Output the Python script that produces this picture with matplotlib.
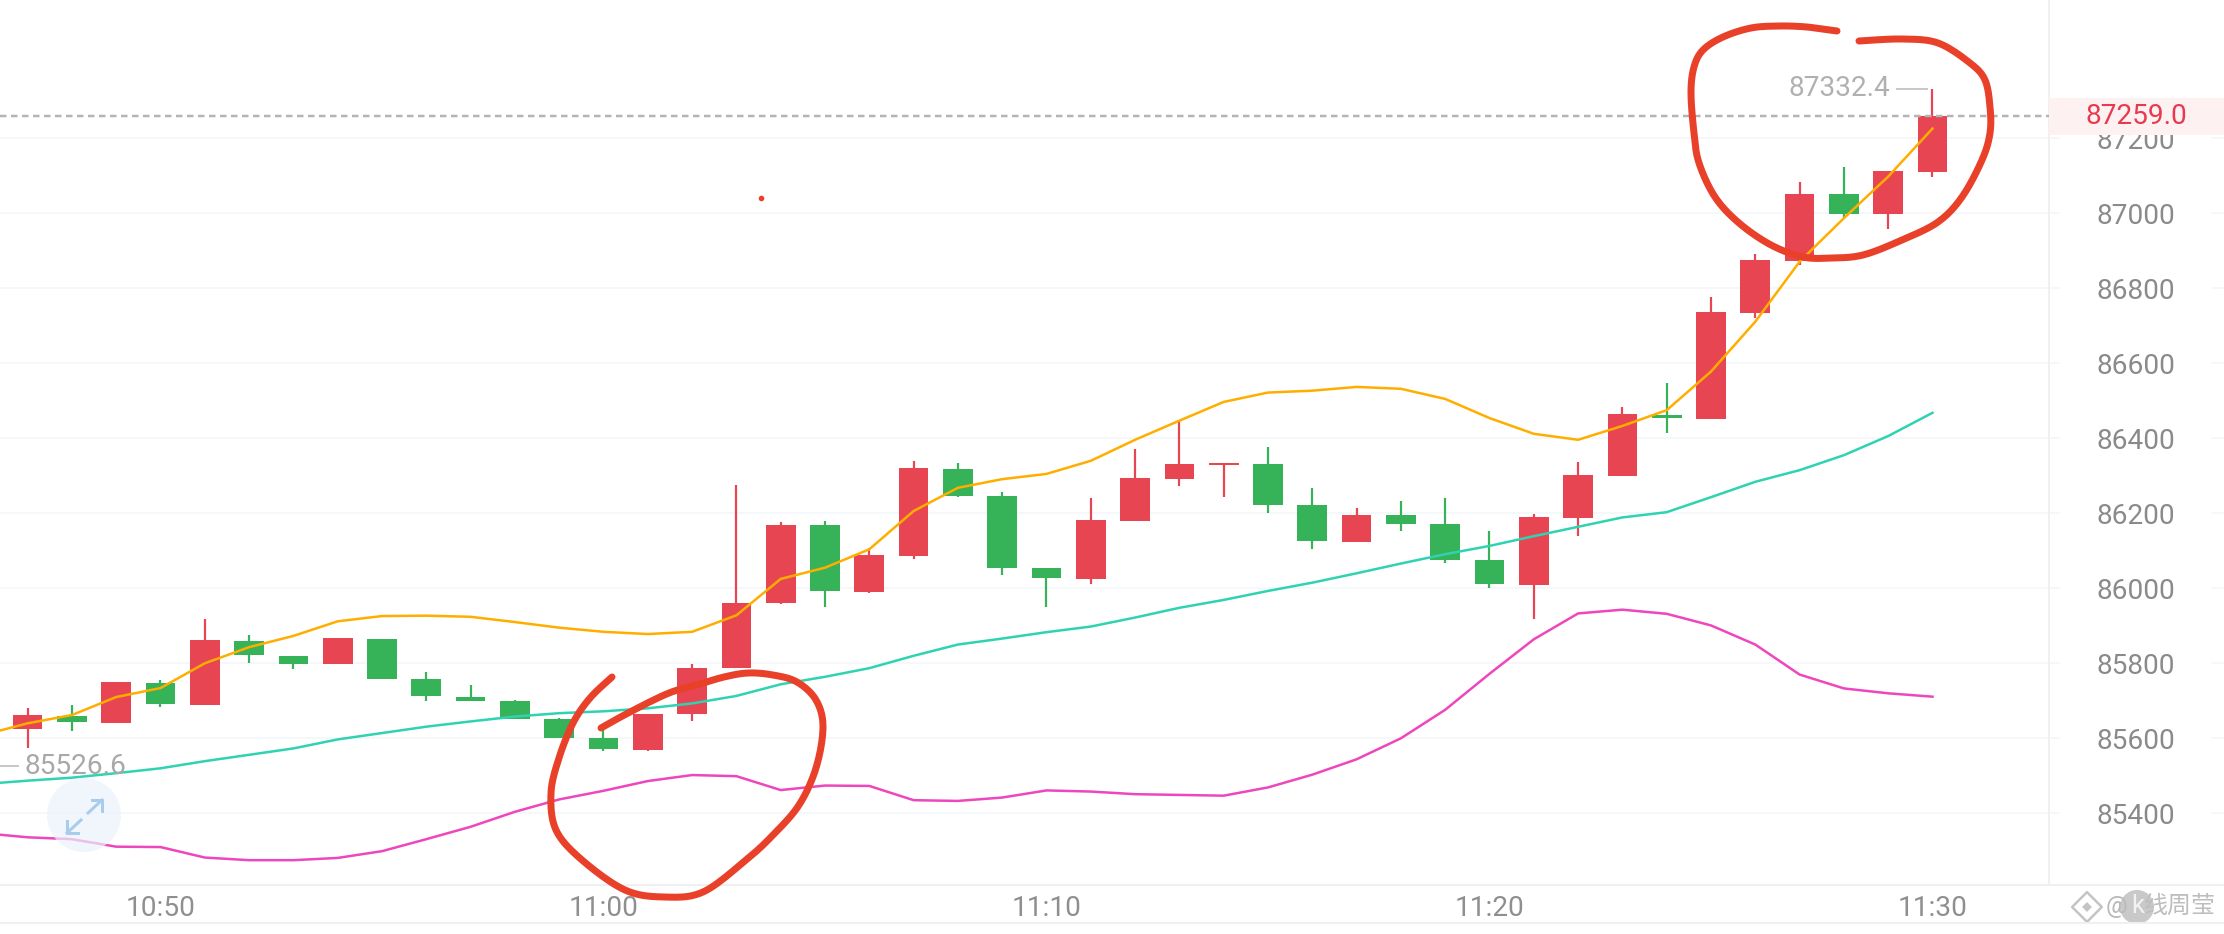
# -*- coding: utf-8 -*-
import numpy as np
import matplotlib
matplotlib.use("Agg")
import matplotlib.pyplot as plt
from matplotlib.patches import Circle, Rectangle
from matplotlib.ticker import FixedLocator, FixedFormatter

plt.rcParams['font.family'] = ['Roboto', 'Noto Sans CJK SC', 'DejaVu Sans']

W, H = 2224, 934

# 1m candles, 10:47 -> 11:30
opens = [85624, 85660, 85642, 85748, 85690, 85860, 85820, 85797, 85865, 85757, 85711,
         85700, 85652, 85600, 85569, 85664, 85787, 85960, 86168, 85990, 86087, 86318,
         86245, 86054, 86024, 86179, 86291, 86329, 86332, 86221, 86124, 86196, 86171,
         86075, 86009, 86187, 86299, 86462, 86452, 86733, 86873, 87051, 86997, 87110]
highs = [85680, 85689, 85749, 85756, 85917, 85876, 85820, 85867, 85865, 85776, 85741,
         85702, 85654, 85622, 85666, 85797, 86276, 86178, 86179, 86107, 86340, 86333,
         86258, 86054, 86241, 86371, 86449, 86333, 86376, 86268, 86213, 86233, 86242,
         86152, 86198, 86337, 86484, 86547, 86778, 86892, 87084, 87124, 87114, 87332]
lows = [85573, 85620, 85642, 85684, 85690, 85800, 85784, 85797, 85758, 85700, 85700,
        85652, 85601, 85566, 85565, 85647, 85787, 85957, 85950, 85988, 86078, 86244,
        86035, 85949, 86012, 86179, 86274, 86244, 86200, 86106, 86124, 86154, 86068,
        86000, 85917, 86139, 86299, 86413, 86452, 86722, 86862, 86986, 86959, 87096]
closes = [85662, 85643, 85749, 85691, 85862, 85821, 85799, 85867, 85758, 85712, 85700,
          85652, 85601, 85571, 85666, 85788, 85962, 86169, 85992, 86090, 86320, 86245,
          86055, 86027, 86181, 86293, 86332, 86333, 86221, 86126, 86196, 86171, 86076,
          86011, 86189, 86301, 86465, 86454, 86736, 86876, 87052, 86998, 87114, 87259]

# band lines start one minute earlier (10:46, off the left edge)
band_upper = [85609, 85640, 85662, 85710, 85734, 85800, 85843, 85873, 85912, 85926, 85927,
              85924, 85910, 85895, 85884, 85878, 85884, 85928, 86025, 86055, 86104, 86206,
              86268, 86291, 86305, 86340, 86396, 86447, 86497, 86522, 86527, 86537, 86532,
              86505, 86454, 86412, 86396, 86433, 86475, 86578, 86711, 86871, 86987, 87098, 87226]
band_mid = [85478, 85487, 85495, 85507, 85520, 85539, 85556, 85573, 85597, 85614, 85631,
            85645, 85658, 85667, 85672, 85680, 85693, 85713, 85744, 85764, 85787, 85820,
            85850, 85866, 85883, 85898, 85922, 85948, 85969, 85993, 86015, 86040, 86066,
            86091, 86113, 86139, 86164, 86189, 86203, 86243, 86284, 86315, 86355, 86406, 86468]
band_lower = [85347, 85336, 85331, 85311, 85310, 85282, 85275, 85275, 85281, 85299, 85331,
              85364, 85404, 85437, 85460, 85486, 85502, 85499, 85462, 85474, 85473, 85435,
              85433, 85442, 85461, 85458, 85451, 85449, 85447, 85469, 85503, 85544, 85600,
              85676, 85772, 85864, 85933, 85943, 85932, 85901, 85850, 85770, 85733, 85720, 85711]

price_ticks = [85400, 85600, 85800, 86000, 86200, 86400, 86600, 86800, 87000, 87200]
time_ticks = [3, 13, 23, 33, 43]
time_labels = ['10:50', '11:00', '11:10', '11:20', '11:30']
last_price = 87259.0
max_label = '87332.4'
min_label = '85526.6'

# hand drawn marks, in picture pixels
stroke_left = [(612, 677), (590, 698), (573, 723), (559, 758), (551, 793), (556, 830),
               (582, 860), (625, 890), (664, 897), (703, 892), (746, 860), (773, 835), (799, 805),
               (816, 768), (823, 727), (816, 700), (797, 682), (773, 675), (748, 673), (724, 677),
               (700, 684), (669, 693), (630, 712), (601, 728)]
stroke_right = [(1837, 31), (1807, 27), (1779, 26), (1751, 28), (1723, 37), (1703, 50), (1694, 67),
                (1691, 93), (1694, 133), (1699, 163), (1715, 197), (1739, 223), (1771, 245),
                (1803, 257), (1831, 258), (1863, 255), (1902, 240), (1938, 222), (1962, 197),
                (1982, 160), (1990, 133), (1990, 107), (1985, 80), (1970, 63), (1938, 43),
                (1902, 39), (1859, 41)]

RED = '#E84553'
GREEN = '#36B358'
INK = '#E9402A'
GRID = '#F3F6FA'
FRAME = '#F0F0F0'
PX = 72.0 / 100  # points per pixel at dpi 100


def smooth(points, steps=12):
    # catmull-rom through the points
    p = np.array(points, dtype=float)
    p = np.vstack([p[0], p, p[-1]])
    out = []
    for i in range(1, len(p) - 2):
        for t in np.linspace(0, 1, steps, endpoint=False):
            out.append(0.5 * (2 * p[i] + (p[i + 1] - p[i - 1]) * t
                              + (2 * p[i - 1] - 5 * p[i] + 4 * p[i + 1] - p[i + 2]) * t ** 2
                              + (3 * p[i] - p[i - 1] - 3 * p[i + 1] + p[i + 2]) * t ** 3))
    out.append(p[-2])
    return np.array(out)


fig = plt.figure(figsize=(W / 100, H / 100), dpi=100, facecolor='white')
ax = fig.add_axes([0, (H - 885) / H, 2049 / W, 885 / H])
ax.set_xlim(-0.623, 45.63)
ax.set_ylim(85208.8, 87568.8)
ax.set_axisbelow(True)

for s in ['top', 'left']:
    ax.spines[s].set_visible(False)
ax.spines['right'].set_color(FRAME)
ax.spines['bottom'].set_color(FRAME)
ax.spines['right'].set_linewidth(2 * PX)
ax.spines['bottom'].set_linewidth(2 * PX)

ax.yaxis.tick_right()
ax.yaxis.set_major_locator(FixedLocator(price_ticks))
ax.yaxis.set_major_formatter(FixedFormatter([str(p) for p in price_ticks]))
ax.tick_params(axis='y', length=11 * PX, width=1.5 * PX, color=GRID, pad=37 * PX,
               labelsize=28 * PX, labelcolor='#8A8A8A')
ax.xaxis.set_major_locator(FixedLocator(time_ticks))
ax.xaxis.set_major_formatter(FixedFormatter(time_labels))
ax.tick_params(axis='x', length=0, pad=10 * PX, labelsize=28 * PX, labelcolor='#8F8F8F')
ax.grid(axis='y', color=GRID, linewidth=1.5 * PX)

# candles
idx = np.arange(len(opens))
for i in idx:
    c = RED if closes[i] >= opens[i] else GREEN
    ax.vlines(i, lows[i], highs[i], color=c, linewidth=2.2 * PX, zorder=3)
    bottom = min(opens[i], closes[i])
    ax.bar(i, abs(closes[i] - opens[i]), width=0.67, bottom=bottom, color=c, zorder=3)

line_x = np.arange(-1, len(opens))
ax.plot(line_x, band_lower, color='#EE46BC', linewidth=2.5 * PX, zorder=4)
ax.plot(line_x, band_mid, color='#2FD3B2', linewidth=2.5 * PX, zorder=4)
ax.plot(line_x, band_upper, color='#FFAE00', linewidth=2.5 * PX, zorder=4)

ax.axhline(last_price, color='#B4B4B4', linewidth=2.5 * PX, dashes=(2.6, 1.8), zorder=5)

# overlay in picture pixels for the things that are not on the price scale
ov = fig.add_axes([0, 0, 1, 1], facecolor='none')
ov.set_xlim(0, W)
ov.set_ylim(H, 0)
ov.axis('off')

ov.plot([0, W], [923, 923], color=FRAME, linewidth=2 * PX)
ov.plot([0, W], [885, 885], color=FRAME, linewidth=2 * PX)
for t in price_ticks:
    y = 138.3 + (87200 - t) * 0.375
    ov.plot([2212, W], [y, y], color=GRID, linewidth=1.5 * PX)

# last price tag
ov.add_patch(Rectangle((2049, 98), W - 2049, 37, facecolor='#FEF1F2', edgecolor='none'))
ov.text(2136, 117, '%.1f' % last_price, color='#E8394F', fontsize=28 * PX, ha='center', va='center')

# max / min labels
ov.plot([1897, 1927], [89, 89], color='#C8C8C8', linewidth=2 * PX)
ov.text(1789, 89, max_label, color='#B0B0B0', fontsize=28 * PX, ha='left', va='center')
ov.plot([0, 18], [766, 766], color='#C8C8C8', linewidth=2 * PX)
ov.text(25, 766, min_label, color='#A8A8A8', fontsize=28 * PX, ha='left', va='center')

# expand button
ov.add_patch(Circle((84, 815), 37, facecolor='#EAF3FB', edgecolor='none', alpha=0.7))
ov.plot([88, 102], [813, 800], color='#A8CCEE', linewidth=3 * PX)
ov.plot([92, 102, 102], [800, 800, 811], color='#A8CCEE', linewidth=3 * PX)
ov.plot([81, 67], [820, 833], color='#A8CCEE', linewidth=3 * PX)
ov.plot([67, 67, 78], [821, 833, 833], color='#A8CCEE', linewidth=3 * PX)

# stray dot
ov.add_patch(Circle((761.5, 198.5), 2.8, facecolor=INK, edgecolor='none'))

# pen strokes
for stroke in [stroke_left, stroke_right]:
    s = smooth(stroke)
    ov.plot(s[:, 0], s[:, 1], color=INK, linewidth=7 * PX, solid_capstyle='round',
            solid_joinstyle='round', zorder=6)

# watermark
ov.add_patch(Circle((2137, 907), 17, facecolor='#C9C9C9', edgecolor='none'))
ov.scatter([2087], [907], s=(21 * PX) ** 2, marker='D', facecolor='none', edgecolor='#C4C4C4', linewidth=2.5 * PX)
ov.scatter([2087], [907], s=(7 * PX) ** 2, marker='D', facecolor='#C4C4C4', edgecolor='none')
ov.text(2106, 906, '@', color='#B8B8B8', fontsize=24 * PX, ha='left', va='center')
ov.text(2131, 906, 'k', color='#F2F2F2', fontsize=26 * PX, ha='left', va='center')
ov.text(2144, 906, '线周莹', color='#BEBEBE', fontsize=24 * PX, ha='left', va='center',
        family=['Noto Sans CJK SC', 'DejaVu Sans'])

fig.savefig('out.png', dpi=100)
